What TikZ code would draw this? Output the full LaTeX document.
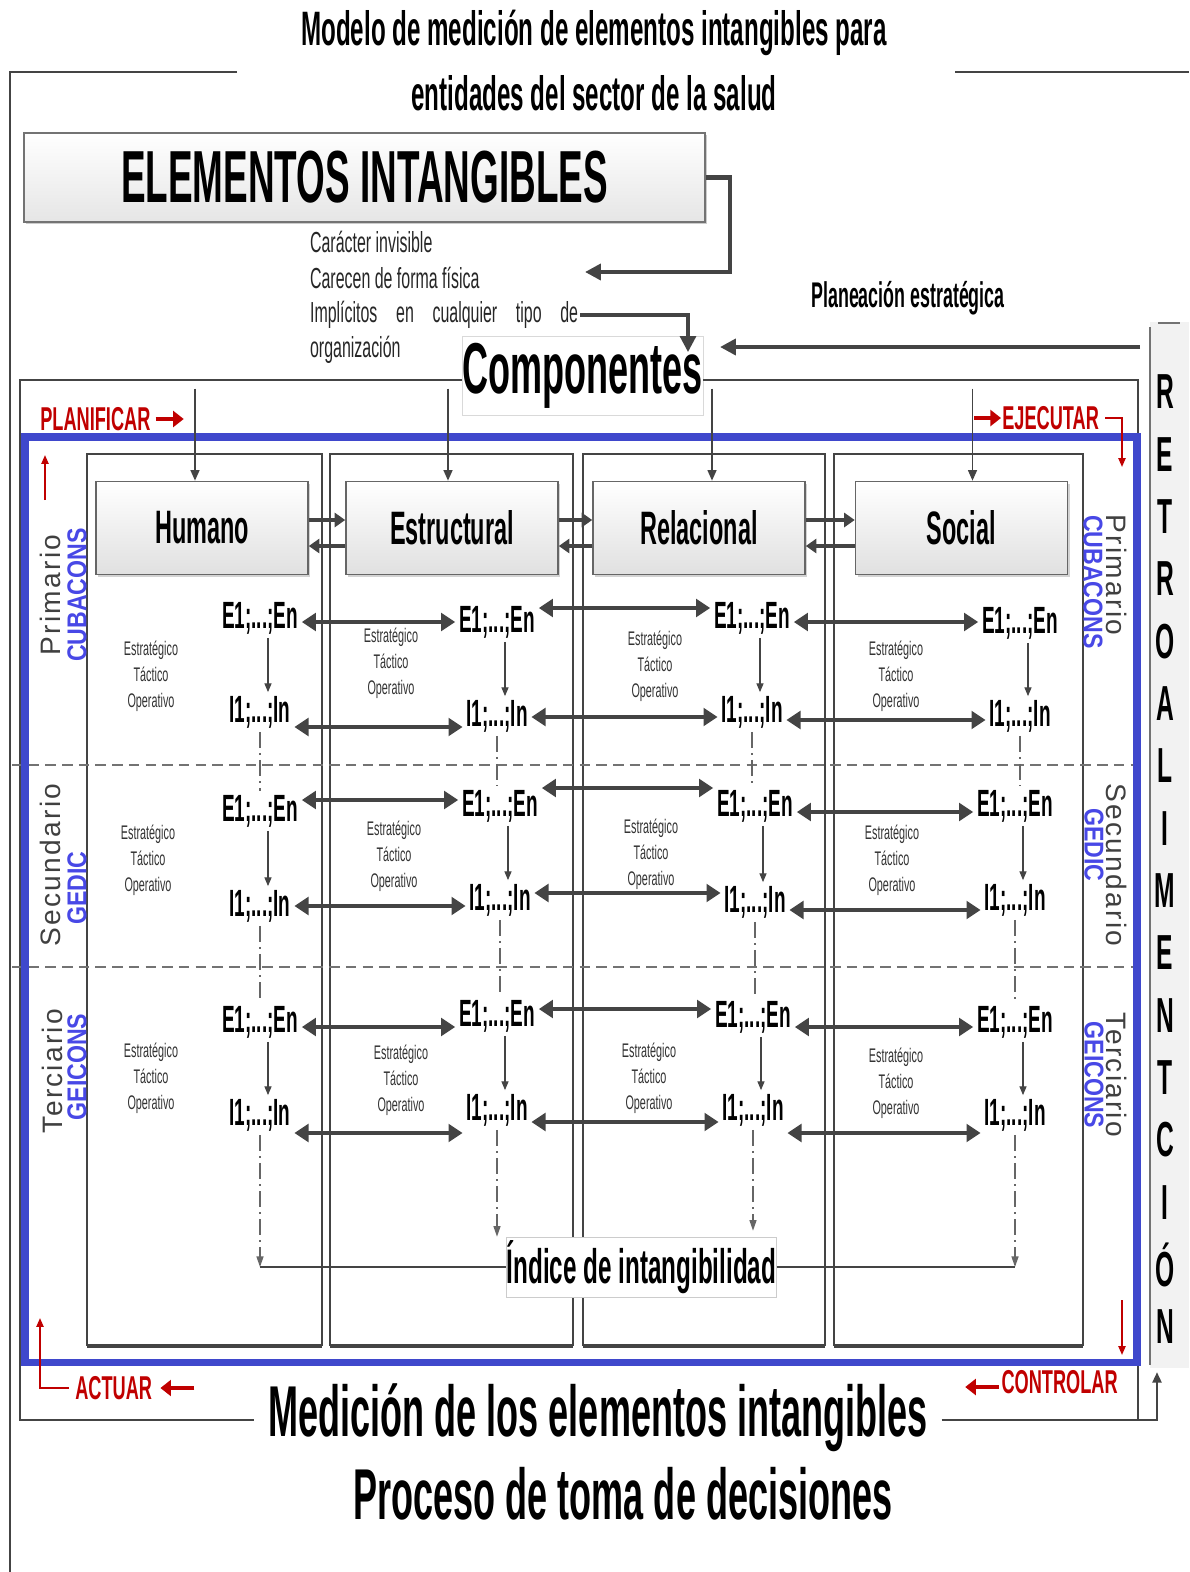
\documentclass[tikz,border=0pt]{standalone}
\usepackage{fontspec}
\setmainfont{Liberation Sans}
\newfontfamily\nar[FakeStretch=0.55]{Liberation Sans}
\newfontfamily\narb[FakeStretch=0.5]{Liberation Sans}
\newfontfamily\semi[FakeStretch=0.85]{Liberation Sans}
\newfontfamily\spaced[LetterSpace=8]{Liberation Sans}
\usetikzlibrary{arrows.meta, calc, positioning, shadows}
\definecolor{linegray}{RGB}{68,68,68}
\definecolor{frameblue}{RGB}{63,72,204}
\definecolor{pdcared}{RGB}{192,0,0}
\definecolor{orgblue}{RGB}{72,72,230}

\begin{document}
\begin{tikzpicture}[x=0.2mm, y=-0.2mm,
    frame/.style={draw=linegray, line width=1.2pt},
    conn/.style={draw=linegray, line width=2.3pt, -{Triangle[length=9pt,width=9pt]}},
    biarr/.style={draw=linegray, line width=2.3pt, {Triangle[length=8pt,width=10pt]}-{Triangle[length=8pt,width=10pt]}},
    boxarr/.style={draw=linegray, line width=2pt, -{Triangle[length=6pt,width=8pt]}},
    downarr/.style={draw=linegray, line width=1pt, -{Triangle[length=6pt,width=5pt]}},
    smallarr/.style={draw=linegray, line width=0.7pt, -{Triangle[length=5pt,width=4pt]}},
    ddline/.style={draw=black!60, line width=0.7pt, dash pattern=on 9pt off 3pt on 1pt off 3pt},
    dd/.style={ddline, -{Triangle[length=6pt,width=4pt]}},
    rowline/.style={draw=black!55, line width=1pt, dash pattern=on 6pt off 3.5pt},
    redthin/.style={draw=pdcared, line width=1pt, -{Triangle[length=5pt,width=4pt]}},
    redbig/.style={draw=pdcared, line width=2.8pt, -{Triangle[length=6pt,width=9pt]}},
    pdca/.style={text=pdcared, font=\nar\bfseries\fontsize{18.8}{20}\selectfont, inner sep=0pt},
    ttl/.style={font=\narb\bfseries\fontsize{27.5}{30}\selectfont, inner sep=1pt},
    big/.style={font=\narb\bfseries\fontsize{41}{44}\selectfont, inner xsep=8pt},
    note/.style={font=\nar\fontsize{16.5}{18}\selectfont, text=black!85, inner sep=1pt},
    plan/.style={font=\narb\bfseries\fontsize{20.3}{22}\selectfont},
    retro/.style={font=\narb\bfseries\fontsize{28}{30}\selectfont},
    elembox/.style={draw=black!55, line width=0.8pt, top color=white, bottom color=black!10,
        minimum width=136.2mm, minimum height=17.8mm, font=\narb\bfseries\fontsize{42}{44}\selectfont,
        drop shadow={shadow xshift=1.2pt, shadow yshift=-1.2pt, opacity=0.4}},
    compnode/.style={draw=black!15, line width=0.4pt, fill=white, minimum width=48.2mm,
        minimum height=15.8mm, font=\narb\bfseries\fontsize{41}{43}\selectfont, inner sep=0pt},
    compbox/.style={draw=black!60, line width=0.9pt, top color=white, bottom color=black!12,
        minimum width=42.4mm, minimum height=18.6mm, font=\narb\bfseries\fontsize{26.7}{28}\selectfont,
        drop shadow={shadow xshift=1.2pt, shadow yshift=-1.2pt, opacity=0.35}},
    colframe/.style={draw=linegray, line width=1.2pt},
    eilbl/.style={font=\narb\bfseries\fontsize{21.6}{23}\selectfont, inner sep=2pt},
    eto/.style={font=\nar\fontsize{11.2}{14.8}\selectfont, align=center, text=black!80},
    rowlbl/.style={font=\spaced\fontsize{16}{18}\selectfont, text=black!75},
    orglbl/.style={font=\semi\bfseries\fontsize{15.5}{18}\selectfont, text=orgblue},
    idxbox/.style={draw=black!20, line width=0.4pt, fill=white, minimum width=53.4mm,
        minimum height=12mm, font=\narb\bfseries\fontsize{27.6}{29}\selectfont, inner sep=0pt}]
\useasboundingbox (0,0) rectangle (1189,1572);

% titulo y marco exterior
\node[ttl] (tit1) at (594,33) {Modelo de medición de elementos intangibles para};
\node[ttl] (tit2) at (594,93) {entidades del sector de la salud};
\draw[frame] (237,72) -- (10,72) -- (10,1572);
\draw[frame] (955,72) -- (1189,72);

% elementos intangibles
\node[elembox] (elem) at (364.5,177.5) {ELEMENTOS INTANGIBLES};
\coordinate (elemin) at (585,272);
\draw[conn] (elem.east) -| (730,272) -- (elemin);
\node[note, anchor=west] (car1) at (308,242) {Carácter invisible};
\node[note, anchor=west] (car2) at (308,278) {Carecen de forma física};
\node[note, anchor=west] (car3) at (308,315) {\makebox[53.6mm][s]{Implícitos en cualquier tipo de}};
\node[note, anchor=west] (car4) at (308,350) {organización};

% componentes
\node[compnode] (comp) at (582.5,375.5) {Componentes};
\coordinate (compin) at (688,352);
\draw[conn, line width=1.8pt] (car3.east) -| (compin);
\node[plan] (plane) at (908,298) {Planeación estratégica};
\coordinate (retroin) at (1140,347);
\draw[conn] (retroin) -- (720,347);

% medicion
\node[big] (meas1) at (598,1418) {Medición de los elementos intangibles};
\node[big] (meas2) at (623,1494) {Proceso de toma de decisiones};

% marco de componentes
\coordinate (ftl) at (20,380);
\coordinate (ftr) at (1138,380);
\coordinate (fbl) at (20,1420);
\coordinate (fbr) at (1138,1420);
\draw[frame, line width=1.6pt] (comp.west |- ftl) -- (ftl) -- (fbl) -- (fbl -| meas1.west);
\draw[frame, line width=1.6pt] (comp.east |- ftr) -- (ftr) -- (fbr);
\draw[frame, line width=1.6pt, -{Triangle[length=6pt,width=5pt]}] (fbl -| meas1.east) -- (1157,1420) -- (1157,1372);

% retroalimentacion
\fill[black!5] (1150,322) rectangle (1189,1368);
\draw[black!55, line width=0.8pt] (1150,327) -- (1150,1365);
\draw[black!55, line width=0.8pt] (1158,323) -- (1180,323);
\foreach \l [count=\n] in {R,E,T,R,O,A,L,I,M,E,N,T,C,I,Ó,N}
    \node[retro] (rt\n) at (1165,{392+(\n-1)*62.33}) {\l};

% columnas y filas
\foreach \xa/\xb in {87/322,330/573,583/825,834/1083} {
    \draw[colframe] (\xa,454) rectangle (\xb,1345);
    \draw[linegray, line width=2.2pt] (\xa,1346) -- (\xb,1346);
}
\draw[rowline] (12,765) -- (1135,765);
\draw[rowline] (12,967) -- (1135,967);

\draw[frameblue, line width=4pt] (25,437) rectangle (1137,1362);

% cajas de componentes
\node[compbox] (hum) at (202,528) {Humano};
\node[compbox] (est) at (452,528) {Estructural};
\node[compbox] (rel) at (699,528) {Relacional};
\node[compbox] (soc) at (961.5,528) {Social};
\foreach \b/\dx in {hum/-7,est/-4,rel/13,soc/11}
    \draw[downarr] ($(\b.north)+(\dx,-92)$) -- ($(\b.north)+(\dx,0)$);
\foreach \a/\b in {hum/est,est/rel,rel/soc} {
    \draw[boxarr] ($(\a.east)+(0,-8)$) -- ($(\b.west)+(0,-8)$);
    \draw[boxarr] ($(\b.west)+(0,18)$) -- ($(\a.east)+(0,18)$);
}

% elementos e indicadores
\foreach \r/\c/\x/\ye/\yi in {1/1/260/618/712, 1/2/497/622/716, 1/3/752/618/712, 1/4/1020/623/716,
        2/1/260/811/906, 2/2/500/806/900, 2/3/755/806/902, 2/4/1015/806/900,
        3/1/260/1022/1115, 3/2/497/1016/1110, 3/3/753/1017/1110, 3/4/1015/1022/1115} {
    \node[eilbl] (e\r\c) at (\x,\ye) {E1;...;En};
    \node[eilbl] (i\r\c) at (\x,\yi) {I1;...;In};
    \draw[smallarr] ($(e\r\c.south)+(8,0)$) -- ($(i\r\c.north)+(8,0)$);
}
\foreach \x/\y [count=\n] in {151/676,391/663,655/666,896/676,148/860,394/856,651/854,892/860,151/1078,401/1080,649/1078,896/1083}
    \node[eto] (eto\n) at (\x,\y) {Estratégico\\Táctico\\Operativo};

\foreach \r/\a/\b/\ye/\yi in {1/1/2/622/727, 1/2/3/608/717, 1/3/4/622/720,
        2/1/2/800/906, 2/2/3/788/893, 2/3/4/812/910,
        3/1/2/1027/1133, 3/2/3/1009/1122, 3/3/4/1027/1133} {
    \coordinate (ye) at (0,\ye);
    \coordinate (yi) at (0,\yi);
    \draw[biarr] (e\r\a.east |- ye) -- (e\r\b.west |- ye);
    \draw[biarr] (i\r\a.east |- yi) -- (i\r\b.west |- yi);
}

% indice
\foreach \c in {1,2,3,4} {
    \draw[ddline] (i1\c.south) -- (i1\c.south |- e2\c.north);
    \draw[ddline] (i2\c.south) -- (i2\c.south |- e3\c.north);
}
\node[idxbox] (idx) at (641.5,1267) {Índice de intangibilidad};
\draw[dd] (i31.south) -- (i31.south |- idx.west);
\draw[dd] (i34.south) -- (i34.south |- idx.east);
\draw[dd] (i32.south) -- (i32.south |- idx.north);
\draw[dd] (i33.south) -- ($(i33.south |- idx.north)+(0,-6)$);
\draw[linegray, line width=0.8pt] (i31.south |- idx.west) -- (idx.west);
\draw[linegray, line width=0.8pt] (idx.east) -- (i34.south |- idx.east);

% niveles
\node[rowlbl, rotate=90] (lp) at (50,595) {Primario};
\node[orglbl, rotate=90] (lo1) at (77,595) {CUBACONS};
\node[rowlbl, rotate=90] (ls) at (50,865) {Secundario};
\node[orglbl, rotate=90] (lo2) at (77,888) {GEDIC};
\node[rowlbl, rotate=90] (lt) at (52,1071) {Terciario};
\node[orglbl, rotate=90] (lo3) at (77,1067) {GEICONS};
\node[rowlbl, rotate=-90] (rp) at (1117,575) {Primario};
\node[orglbl, rotate=-90] (ro1) at (1093,582) {CUBACONS};
\node[rowlbl, rotate=-90] (rs) at (1117,865) {Secundario};
\node[orglbl, rotate=-90] (ro2) at (1094,845) {GEDIC};
\node[rowlbl, rotate=-90] (rt) at (1117,1075) {Terciario};
\node[orglbl, rotate=-90] (ro3) at (1094,1075) {GEICONS};

% ciclo PHVA
\node[pdca, anchor=west] (plan) at (40,419) {PLANIFICAR};
\draw[redbig] ($(plan.east)+(5,0)$) -- ($(plan.east)+(33,0)$);
\node[pdca, anchor=west] (ejec) at (1002,418) {EJECUTAR};
\draw[redbig] ($(ejec.west)+(-28,0)$) -- ($(ejec.west)+(-1,0)$);
\draw[redthin] ($(ejec.east)+(6,0)$) -- (1122,418) -- (1122,467);
\draw[redthin] (45,500) -- (45,455);
\node[pdca, anchor=west] (act) at (75,1388) {ACTUAR};
\draw[redthin] ($(act.west)+(-6,0)$) -| (40,1318);
\draw[redbig] ($(act.east)+(42,0)$) -- ($(act.east)+(8,0)$);
\node[pdca, anchor=east] (ctrl) at (1118,1382) {CONTROLAR};
\draw[redbig] ($(ctrl.west)+(-2,5)$) -- ($(ctrl.west)+(-36,5)$);
\draw[redthin] (1122,1300) -- (1122,1355);
\end{tikzpicture}
\end{document}
